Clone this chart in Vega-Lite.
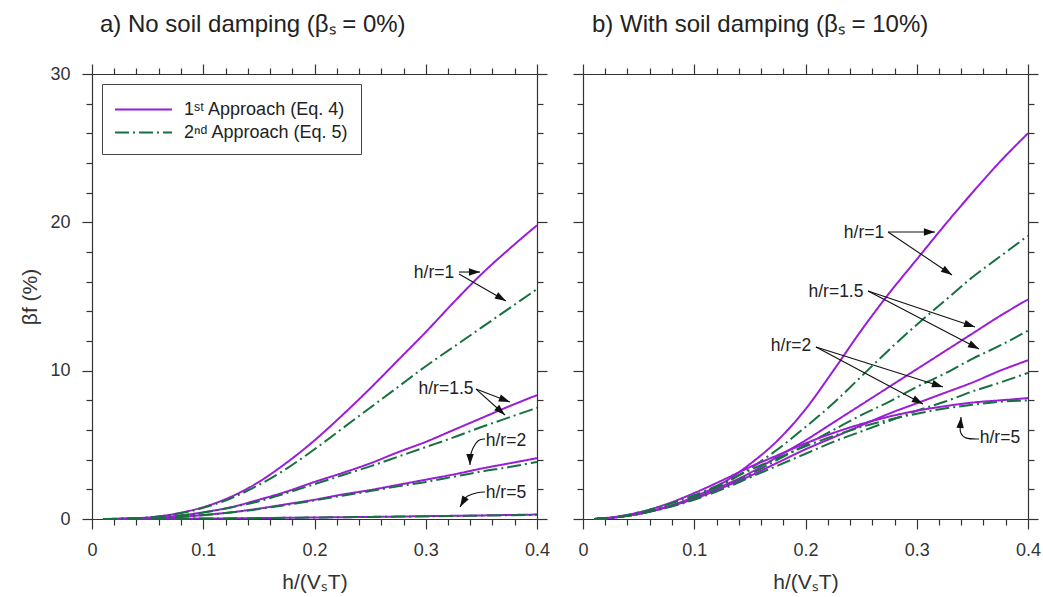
{
  "$schema": "https://vega.github.io/schema/vega-lite/v6.json",
  "padding": {"left": 19, "top": 13, "right": 5, "bottom": 4},
  "background": "white",
  "config": {
    "font": "Liberation Sans",
    "view": {"stroke": null},
    "axis": {"domainColor": "#333", "tickColor": "#333", "labelColor": "#333", "titleColor": "#333", "grid": false, "labelFontSize": 18, "titleFontSize": 21, "titleFontWeight": "normal", "labelFont": "Liberation Sans", "titleFont": "Liberation Sans", "labelOverlap": false, "labelFlush": false, "labelBound": false, "domainWidth": 1.2, "tickWidth": 1.2}
  },
  "datasets": {
    "curves": [
      {"panel":"a","hr":"1","approach":"A1","x":0.01,"y":0},{"panel":"a","hr":"1","approach":"A1","x":0.025,"y":0.02},{"panel":"a","hr":"1","approach":"A1","x":0.05,"y":0.1},{"panel":"a","hr":"1","approach":"A1","x":0.075,"y":0.35},{"panel":"a","hr":"1","approach":"A1","x":0.1,"y":0.8},{"panel":"a","hr":"1","approach":"A1","x":0.125,"y":1.5},{"panel":"a","hr":"1","approach":"A1","x":0.15,"y":2.5},{"panel":"a","hr":"1","approach":"A1","x":0.175,"y":3.8},{"panel":"a","hr":"1","approach":"A1","x":0.2,"y":5.3},{"panel":"a","hr":"1","approach":"A1","x":0.225,"y":7.0},{"panel":"a","hr":"1","approach":"A1","x":0.25,"y":8.8},{"panel":"a","hr":"1","approach":"A1","x":0.275,"y":10.7},{"panel":"a","hr":"1","approach":"A1","x":0.3,"y":12.6},{"panel":"a","hr":"1","approach":"A1","x":0.325,"y":14.6},{"panel":"a","hr":"1","approach":"A1","x":0.35,"y":16.5},{"panel":"a","hr":"1","approach":"A1","x":0.375,"y":18.2},{"panel":"a","hr":"1","approach":"A1","x":0.4,"y":19.8},
      {"panel":"a","hr":"1","approach":"A2","x":0.01,"y":0},{"panel":"a","hr":"1","approach":"A2","x":0.025,"y":0.02},{"panel":"a","hr":"1","approach":"A2","x":0.05,"y":0.1},{"panel":"a","hr":"1","approach":"A2","x":0.075,"y":0.33},{"panel":"a","hr":"1","approach":"A2","x":0.1,"y":0.75},{"panel":"a","hr":"1","approach":"A2","x":0.125,"y":1.4},{"panel":"a","hr":"1","approach":"A2","x":0.15,"y":2.3},{"panel":"a","hr":"1","approach":"A2","x":0.175,"y":3.4},{"panel":"a","hr":"1","approach":"A2","x":0.2,"y":4.7},{"panel":"a","hr":"1","approach":"A2","x":0.225,"y":6.1},{"panel":"a","hr":"1","approach":"A2","x":0.25,"y":7.5},{"panel":"a","hr":"1","approach":"A2","x":0.275,"y":8.9},{"panel":"a","hr":"1","approach":"A2","x":0.3,"y":10.3},{"panel":"a","hr":"1","approach":"A2","x":0.325,"y":11.6},{"panel":"a","hr":"1","approach":"A2","x":0.35,"y":12.9},{"panel":"a","hr":"1","approach":"A2","x":0.375,"y":14.2},{"panel":"a","hr":"1","approach":"A2","x":0.4,"y":15.5},
      {"panel":"a","hr":"1.5","approach":"A1","x":0.01,"y":0},{"panel":"a","hr":"1.5","approach":"A1","x":0.025,"y":0.01},{"panel":"a","hr":"1.5","approach":"A1","x":0.05,"y":0.06},{"panel":"a","hr":"1.5","approach":"A1","x":0.075,"y":0.2},{"panel":"a","hr":"1.5","approach":"A1","x":0.1,"y":0.45},{"panel":"a","hr":"1.5","approach":"A1","x":0.125,"y":0.8},{"panel":"a","hr":"1.5","approach":"A1","x":0.15,"y":1.3},{"panel":"a","hr":"1.5","approach":"A1","x":0.175,"y":1.85},{"panel":"a","hr":"1.5","approach":"A1","x":0.2,"y":2.5},{"panel":"a","hr":"1.5","approach":"A1","x":0.225,"y":3.1},{"panel":"a","hr":"1.5","approach":"A1","x":0.25,"y":3.75},{"panel":"a","hr":"1.5","approach":"A1","x":0.275,"y":4.5},{"panel":"a","hr":"1.5","approach":"A1","x":0.3,"y":5.2},{"panel":"a","hr":"1.5","approach":"A1","x":0.325,"y":6.0},{"panel":"a","hr":"1.5","approach":"A1","x":0.35,"y":6.8},{"panel":"a","hr":"1.5","approach":"A1","x":0.375,"y":7.6},{"panel":"a","hr":"1.5","approach":"A1","x":0.4,"y":8.35},
      {"panel":"a","hr":"1.5","approach":"A2","x":0.01,"y":0},{"panel":"a","hr":"1.5","approach":"A2","x":0.025,"y":0.01},{"panel":"a","hr":"1.5","approach":"A2","x":0.05,"y":0.06},{"panel":"a","hr":"1.5","approach":"A2","x":0.075,"y":0.2},{"panel":"a","hr":"1.5","approach":"A2","x":0.1,"y":0.43},{"panel":"a","hr":"1.5","approach":"A2","x":0.125,"y":0.78},{"panel":"a","hr":"1.5","approach":"A2","x":0.15,"y":1.2},{"panel":"a","hr":"1.5","approach":"A2","x":0.175,"y":1.75},{"panel":"a","hr":"1.5","approach":"A2","x":0.2,"y":2.35},{"panel":"a","hr":"1.5","approach":"A2","x":0.225,"y":2.95},{"panel":"a","hr":"1.5","approach":"A2","x":0.25,"y":3.55},{"panel":"a","hr":"1.5","approach":"A2","x":0.275,"y":4.2},{"panel":"a","hr":"1.5","approach":"A2","x":0.3,"y":4.85},{"panel":"a","hr":"1.5","approach":"A2","x":0.325,"y":5.5},{"panel":"a","hr":"1.5","approach":"A2","x":0.35,"y":6.2},{"panel":"a","hr":"1.5","approach":"A2","x":0.375,"y":6.85},{"panel":"a","hr":"1.5","approach":"A2","x":0.4,"y":7.5},
      {"panel":"a","hr":"2","approach":"A1","x":0.01,"y":0},{"panel":"a","hr":"2","approach":"A1","x":0.025,"y":0.01},{"panel":"a","hr":"2","approach":"A1","x":0.05,"y":0.04},{"panel":"a","hr":"2","approach":"A1","x":0.075,"y":0.12},{"panel":"a","hr":"2","approach":"A1","x":0.1,"y":0.27},{"panel":"a","hr":"2","approach":"A1","x":0.125,"y":0.45},{"panel":"a","hr":"2","approach":"A1","x":0.15,"y":0.7},{"panel":"a","hr":"2","approach":"A1","x":0.175,"y":1.0},{"panel":"a","hr":"2","approach":"A1","x":0.2,"y":1.3},{"panel":"a","hr":"2","approach":"A1","x":0.225,"y":1.65},{"panel":"a","hr":"2","approach":"A1","x":0.25,"y":1.95},{"panel":"a","hr":"2","approach":"A1","x":0.275,"y":2.3},{"panel":"a","hr":"2","approach":"A1","x":0.3,"y":2.65},{"panel":"a","hr":"2","approach":"A1","x":0.325,"y":3.0},{"panel":"a","hr":"2","approach":"A1","x":0.35,"y":3.4},{"panel":"a","hr":"2","approach":"A1","x":0.375,"y":3.75},{"panel":"a","hr":"2","approach":"A1","x":0.4,"y":4.1},
      {"panel":"a","hr":"2","approach":"A2","x":0.01,"y":0},{"panel":"a","hr":"2","approach":"A2","x":0.025,"y":0.01},{"panel":"a","hr":"2","approach":"A2","x":0.05,"y":0.04},{"panel":"a","hr":"2","approach":"A2","x":0.075,"y":0.12},{"panel":"a","hr":"2","approach":"A2","x":0.1,"y":0.26},{"panel":"a","hr":"2","approach":"A2","x":0.125,"y":0.44},{"panel":"a","hr":"2","approach":"A2","x":0.15,"y":0.67},{"panel":"a","hr":"2","approach":"A2","x":0.175,"y":0.95},{"panel":"a","hr":"2","approach":"A2","x":0.2,"y":1.25},{"panel":"a","hr":"2","approach":"A2","x":0.225,"y":1.57},{"panel":"a","hr":"2","approach":"A2","x":0.25,"y":1.88},{"panel":"a","hr":"2","approach":"A2","x":0.275,"y":2.2},{"panel":"a","hr":"2","approach":"A2","x":0.3,"y":2.5},{"panel":"a","hr":"2","approach":"A2","x":0.325,"y":2.85},{"panel":"a","hr":"2","approach":"A2","x":0.35,"y":3.2},{"panel":"a","hr":"2","approach":"A2","x":0.375,"y":3.5},{"panel":"a","hr":"2","approach":"A2","x":0.4,"y":3.85},
      {"panel":"a","hr":"5","approach":"A1","x":0.01,"y":0},{"panel":"a","hr":"5","approach":"A1","x":0.05,"y":0.01},{"panel":"a","hr":"5","approach":"A1","x":0.1,"y":0.03},{"panel":"a","hr":"5","approach":"A1","x":0.15,"y":0.06},{"panel":"a","hr":"5","approach":"A1","x":0.2,"y":0.1},{"panel":"a","hr":"5","approach":"A1","x":0.25,"y":0.14},{"panel":"a","hr":"5","approach":"A1","x":0.3,"y":0.19},{"panel":"a","hr":"5","approach":"A1","x":0.35,"y":0.24},{"panel":"a","hr":"5","approach":"A1","x":0.4,"y":0.3},
      {"panel":"a","hr":"5","approach":"A2","x":0.01,"y":0},{"panel":"a","hr":"5","approach":"A2","x":0.05,"y":0.01},{"panel":"a","hr":"5","approach":"A2","x":0.1,"y":0.03},{"panel":"a","hr":"5","approach":"A2","x":0.15,"y":0.06},{"panel":"a","hr":"5","approach":"A2","x":0.2,"y":0.1},{"panel":"a","hr":"5","approach":"A2","x":0.25,"y":0.14},{"panel":"a","hr":"5","approach":"A2","x":0.3,"y":0.18},{"panel":"a","hr":"5","approach":"A2","x":0.35,"y":0.23},{"panel":"a","hr":"5","approach":"A2","x":0.4,"y":0.28},
      {"panel":"b","hr":"1","approach":"A1","x":0.01,"y":0},{"panel":"b","hr":"1","approach":"A1","x":0.025,"y":0.08},{"panel":"b","hr":"1","approach":"A1","x":0.05,"y":0.35},{"panel":"b","hr":"1","approach":"A1","x":0.075,"y":0.8},{"panel":"b","hr":"1","approach":"A1","x":0.1,"y":1.5},{"panel":"b","hr":"1","approach":"A1","x":0.125,"y":2.4},{"panel":"b","hr":"1","approach":"A1","x":0.15,"y":3.7},{"panel":"b","hr":"1","approach":"A1","x":0.175,"y":5.3},{"panel":"b","hr":"1","approach":"A1","x":0.2,"y":7.4},{"panel":"b","hr":"1","approach":"A1","x":0.225,"y":10.0},{"panel":"b","hr":"1","approach":"A1","x":0.25,"y":12.7},{"panel":"b","hr":"1","approach":"A1","x":0.275,"y":15.2},{"panel":"b","hr":"1","approach":"A1","x":0.3,"y":17.5},{"panel":"b","hr":"1","approach":"A1","x":0.325,"y":19.8},{"panel":"b","hr":"1","approach":"A1","x":0.35,"y":22.0},{"panel":"b","hr":"1","approach":"A1","x":0.375,"y":24.1},{"panel":"b","hr":"1","approach":"A1","x":0.4,"y":26.0},
      {"panel":"b","hr":"1","approach":"A2","x":0.01,"y":0},{"panel":"b","hr":"1","approach":"A2","x":0.025,"y":0.08},{"panel":"b","hr":"1","approach":"A2","x":0.05,"y":0.35},{"panel":"b","hr":"1","approach":"A2","x":0.075,"y":0.8},{"panel":"b","hr":"1","approach":"A2","x":0.1,"y":1.45},{"panel":"b","hr":"1","approach":"A2","x":0.125,"y":2.3},{"panel":"b","hr":"1","approach":"A2","x":0.15,"y":3.4},{"panel":"b","hr":"1","approach":"A2","x":0.175,"y":4.7},{"panel":"b","hr":"1","approach":"A2","x":0.2,"y":6.2},{"panel":"b","hr":"1","approach":"A2","x":0.225,"y":7.8},{"panel":"b","hr":"1","approach":"A2","x":0.25,"y":9.6},{"panel":"b","hr":"1","approach":"A2","x":0.275,"y":11.4},{"panel":"b","hr":"1","approach":"A2","x":0.3,"y":13.1},{"panel":"b","hr":"1","approach":"A2","x":0.325,"y":14.7},{"panel":"b","hr":"1","approach":"A2","x":0.35,"y":16.3},{"panel":"b","hr":"1","approach":"A2","x":0.375,"y":17.7},{"panel":"b","hr":"1","approach":"A2","x":0.4,"y":19.1},
      {"panel":"b","hr":"1.5","approach":"A1","x":0.01,"y":0},{"panel":"b","hr":"1.5","approach":"A1","x":0.025,"y":0.08},{"panel":"b","hr":"1.5","approach":"A1","x":0.05,"y":0.35},{"panel":"b","hr":"1.5","approach":"A1","x":0.075,"y":0.8},{"panel":"b","hr":"1.5","approach":"A1","x":0.1,"y":1.4},{"panel":"b","hr":"1.5","approach":"A1","x":0.125,"y":2.2},{"panel":"b","hr":"1.5","approach":"A1","x":0.15,"y":3.1},{"panel":"b","hr":"1.5","approach":"A1","x":0.175,"y":4.2},{"panel":"b","hr":"1.5","approach":"A1","x":0.2,"y":5.3},{"panel":"b","hr":"1.5","approach":"A1","x":0.225,"y":6.5},{"panel":"b","hr":"1.5","approach":"A1","x":0.25,"y":7.7},{"panel":"b","hr":"1.5","approach":"A1","x":0.275,"y":8.9},{"panel":"b","hr":"1.5","approach":"A1","x":0.3,"y":10.1},{"panel":"b","hr":"1.5","approach":"A1","x":0.325,"y":11.3},{"panel":"b","hr":"1.5","approach":"A1","x":0.35,"y":12.5},{"panel":"b","hr":"1.5","approach":"A1","x":0.375,"y":13.7},{"panel":"b","hr":"1.5","approach":"A1","x":0.4,"y":14.8},
      {"panel":"b","hr":"1.5","approach":"A2","x":0.01,"y":0},{"panel":"b","hr":"1.5","approach":"A2","x":0.025,"y":0.08},{"panel":"b","hr":"1.5","approach":"A2","x":0.05,"y":0.35},{"panel":"b","hr":"1.5","approach":"A2","x":0.075,"y":0.8},{"panel":"b","hr":"1.5","approach":"A2","x":0.1,"y":1.4},{"panel":"b","hr":"1.5","approach":"A2","x":0.125,"y":2.15},{"panel":"b","hr":"1.5","approach":"A2","x":0.15,"y":3.0},{"panel":"b","hr":"1.5","approach":"A2","x":0.175,"y":4.0},{"panel":"b","hr":"1.5","approach":"A2","x":0.2,"y":5.0},{"panel":"b","hr":"1.5","approach":"A2","x":0.225,"y":6.0},{"panel":"b","hr":"1.5","approach":"A2","x":0.25,"y":7.0},{"panel":"b","hr":"1.5","approach":"A2","x":0.275,"y":7.9},{"panel":"b","hr":"1.5","approach":"A2","x":0.3,"y":8.9},{"panel":"b","hr":"1.5","approach":"A2","x":0.325,"y":9.8},{"panel":"b","hr":"1.5","approach":"A2","x":0.35,"y":10.8},{"panel":"b","hr":"1.5","approach":"A2","x":0.375,"y":11.7},{"panel":"b","hr":"1.5","approach":"A2","x":0.4,"y":12.7},
      {"panel":"b","hr":"2","approach":"A1","x":0.01,"y":0},{"panel":"b","hr":"2","approach":"A1","x":0.025,"y":0.08},{"panel":"b","hr":"2","approach":"A1","x":0.05,"y":0.35},{"panel":"b","hr":"2","approach":"A1","x":0.075,"y":0.8},{"panel":"b","hr":"2","approach":"A1","x":0.1,"y":1.35},{"panel":"b","hr":"2","approach":"A1","x":0.125,"y":2.1},{"panel":"b","hr":"2","approach":"A1","x":0.15,"y":2.9},{"panel":"b","hr":"2","approach":"A1","x":0.175,"y":3.8},{"panel":"b","hr":"2","approach":"A1","x":0.2,"y":4.7},{"panel":"b","hr":"2","approach":"A1","x":0.225,"y":5.5},{"panel":"b","hr":"2","approach":"A1","x":0.25,"y":6.3},{"panel":"b","hr":"2","approach":"A1","x":0.275,"y":7.1},{"panel":"b","hr":"2","approach":"A1","x":0.3,"y":7.8},{"panel":"b","hr":"2","approach":"A1","x":0.325,"y":8.5},{"panel":"b","hr":"2","approach":"A1","x":0.35,"y":9.2},{"panel":"b","hr":"2","approach":"A1","x":0.375,"y":10.0},{"panel":"b","hr":"2","approach":"A1","x":0.4,"y":10.7},
      {"panel":"b","hr":"2","approach":"A2","x":0.01,"y":0},{"panel":"b","hr":"2","approach":"A2","x":0.025,"y":0.08},{"panel":"b","hr":"2","approach":"A2","x":0.05,"y":0.33},{"panel":"b","hr":"2","approach":"A2","x":0.075,"y":0.75},{"panel":"b","hr":"2","approach":"A2","x":0.1,"y":1.3},{"panel":"b","hr":"2","approach":"A2","x":0.125,"y":2.0},{"panel":"b","hr":"2","approach":"A2","x":0.15,"y":2.8},{"panel":"b","hr":"2","approach":"A2","x":0.175,"y":3.6},{"panel":"b","hr":"2","approach":"A2","x":0.2,"y":4.4},{"panel":"b","hr":"2","approach":"A2","x":0.225,"y":5.2},{"panel":"b","hr":"2","approach":"A2","x":0.25,"y":5.9},{"panel":"b","hr":"2","approach":"A2","x":0.275,"y":6.6},{"panel":"b","hr":"2","approach":"A2","x":0.3,"y":7.3},{"panel":"b","hr":"2","approach":"A2","x":0.325,"y":7.9},{"panel":"b","hr":"2","approach":"A2","x":0.35,"y":8.6},{"panel":"b","hr":"2","approach":"A2","x":0.375,"y":9.2},{"panel":"b","hr":"2","approach":"A2","x":0.4,"y":9.85},
      {"panel":"b","hr":"5","approach":"A1","x":0.01,"y":0},{"panel":"b","hr":"5","approach":"A1","x":0.025,"y":0.1},{"panel":"b","hr":"5","approach":"A1","x":0.05,"y":0.45},{"panel":"b","hr":"5","approach":"A1","x":0.075,"y":1.0},{"panel":"b","hr":"5","approach":"A1","x":0.1,"y":1.75},{"panel":"b","hr":"5","approach":"A1","x":0.125,"y":2.6},{"panel":"b","hr":"5","approach":"A1","x":0.15,"y":3.5},{"panel":"b","hr":"5","approach":"A1","x":0.175,"y":4.3},{"panel":"b","hr":"5","approach":"A1","x":0.2,"y":5.1},{"panel":"b","hr":"5","approach":"A1","x":0.225,"y":5.8},{"panel":"b","hr":"5","approach":"A1","x":0.25,"y":6.4},{"panel":"b","hr":"5","approach":"A1","x":0.275,"y":6.9},{"panel":"b","hr":"5","approach":"A1","x":0.3,"y":7.3},{"panel":"b","hr":"5","approach":"A1","x":0.325,"y":7.6},{"panel":"b","hr":"5","approach":"A1","x":0.35,"y":7.85},{"panel":"b","hr":"5","approach":"A1","x":0.375,"y":8.0},{"panel":"b","hr":"5","approach":"A1","x":0.4,"y":8.15},
      {"panel":"b","hr":"5","approach":"A2","x":0.01,"y":0},{"panel":"b","hr":"5","approach":"A2","x":0.025,"y":0.1},{"panel":"b","hr":"5","approach":"A2","x":0.05,"y":0.42},{"panel":"b","hr":"5","approach":"A2","x":0.075,"y":0.95},{"panel":"b","hr":"5","approach":"A2","x":0.1,"y":1.6},{"panel":"b","hr":"5","approach":"A2","x":0.125,"y":2.4},{"panel":"b","hr":"5","approach":"A2","x":0.15,"y":3.3},{"panel":"b","hr":"5","approach":"A2","x":0.175,"y":4.1},{"panel":"b","hr":"5","approach":"A2","x":0.2,"y":4.9},{"panel":"b","hr":"5","approach":"A2","x":0.225,"y":5.6},{"panel":"b","hr":"5","approach":"A2","x":0.25,"y":6.2},{"panel":"b","hr":"5","approach":"A2","x":0.275,"y":6.7},{"panel":"b","hr":"5","approach":"A2","x":0.3,"y":7.1},{"panel":"b","hr":"5","approach":"A2","x":0.325,"y":7.45},{"panel":"b","hr":"5","approach":"A2","x":0.35,"y":7.7},{"panel":"b","hr":"5","approach":"A2","x":0.375,"y":7.9},{"panel":"b","hr":"5","approach":"A2","x":0.4,"y":8.0}
    ],
    "labels": [
      {"panel":"a","label":"h/r=1","x":0.3074,"y":16.58},
      {"panel":"a","label":"h/r=1.5","x":0.3182,"y":8.76},
      {"panel":"a","label":"h/r=2","x":0.3721,"y":5.26},
      {"panel":"a","label":"h/r=5","x":0.3721,"y":1.75},
      {"panel":"b","label":"h/r=1","x":0.2526,"y":19.28},
      {"panel":"b","label":"h/r=1.5","x":0.2274,"y":15.3},
      {"panel":"b","label":"h/r=2","x":0.187,"y":11.66},
      {"panel":"b","label":"h/r=5","x":0.3748,"y":5.46}
    ],
    "arrows": [
      {"panel":"a","id":"a1a","ord":0,"x":0.3299,"y":16.65},{"panel":"a","id":"a1a","ord":1,"x":0.3488,"y":16.65},
      {"panel":"a","id":"a1b","ord":0,"x":0.3299,"y":16.52},{"panel":"a","id":"a1b","ord":1,"x":0.3721,"y":14.7},
      {"panel":"a","id":"a15a","ord":0,"x":0.3452,"y":8.76},{"panel":"a","id":"a15a","ord":1,"x":0.3757,"y":7.89},
      {"panel":"a","id":"a15b","ord":0,"x":0.3452,"y":8.76},{"panel":"a","id":"a15b","ord":1,"x":0.3712,"y":7.01},
      {"panel":"a","id":"a2","ord":0,"x":0.3533,"y":5.39},{"panel":"a","id":"a2","ord":1,"x":0.347,"y":5.39},{"panel":"a","id":"a2","ord":2,"x":0.3416,"y":4.72},{"panel":"a","id":"a2","ord":3,"x":0.3398,"y":4.18},{"panel":"a","id":"a2","ord":4,"x":0.3398,"y":3.64},
      {"panel":"a","id":"a5","ord":0,"x":0.3533,"y":1.82},{"panel":"a","id":"a5","ord":1,"x":0.347,"y":1.82},{"panel":"a","id":"a5","ord":2,"x":0.3362,"y":1.55},{"panel":"a","id":"a5","ord":3,"x":0.3344,"y":1.28},{"panel":"a","id":"a5","ord":4,"x":0.3308,"y":0.81},
      {"panel":"b","id":"b1a","ord":0,"x":0.2742,"y":19.35},{"panel":"b","id":"b1a","ord":1,"x":0.3164,"y":19.35},
      {"panel":"b","id":"b1b","ord":0,"x":0.2742,"y":19.35},{"panel":"b","id":"b1b","ord":1,"x":0.3317,"y":16.45},
      {"panel":"b","id":"b15a","ord":0,"x":0.2562,"y":15.37},{"panel":"b","id":"b15a","ord":1,"x":0.3524,"y":12.94},
      {"panel":"b","id":"b15b","ord":0,"x":0.2562,"y":15.37},{"panel":"b","id":"b15b","ord":1,"x":0.356,"y":11.46},
      {"panel":"b","id":"b2a","ord":0,"x":0.2094,"y":11.6},{"panel":"b","id":"b2a","ord":1,"x":0.3236,"y":8.9},
      {"panel":"b","id":"b2b","ord":0,"x":0.2094,"y":11.6},{"panel":"b","id":"b2b","ord":1,"x":0.3056,"y":7.75},
      {"panel":"b","id":"b5","ord":0,"x":0.356,"y":5.39},{"panel":"b","id":"b5","ord":1,"x":0.3425,"y":5.39},{"panel":"b","id":"b5","ord":2,"x":0.3389,"y":5.87},{"panel":"b","id":"b5","ord":3,"x":0.3389,"y":6.07},{"panel":"b","id":"b5","ord":4,"x":0.3398,"y":6.88}
    ],
    "heads": [
      {"panel":"a","x":0.3488,"y":16.65,"tx":0.3299,"ty":16.65},
      {"panel":"a","x":0.3721,"y":14.7,"tx":0.3299,"ty":16.52},
      {"panel":"a","x":0.3757,"y":7.89,"tx":0.3452,"ty":8.76},
      {"panel":"a","x":0.3712,"y":7.01,"tx":0.3452,"ty":8.76},
      {"panel":"a","x":0.3398,"y":3.64,"tx":0.3398,"ty":4.18},
      {"panel":"a","x":0.3308,"y":0.81,"tx":0.3344,"ty":1.28},
      {"panel":"b","x":0.3164,"y":19.35,"tx":0.2742,"ty":19.35},
      {"panel":"b","x":0.3317,"y":16.45,"tx":0.2742,"ty":19.35},
      {"panel":"b","x":0.3524,"y":12.94,"tx":0.2562,"ty":15.37},
      {"panel":"b","x":0.356,"y":11.46,"tx":0.2562,"ty":15.37},
      {"panel":"b","x":0.3236,"y":8.9,"tx":0.2094,"ty":11.6},
      {"panel":"b","x":0.3056,"y":7.75,"tx":0.2094,"ty":11.6},
      {"panel":"b","x":0.3398,"y":6.88,"tx":0.3389,"ty":6.07}
    ]
  },
  "spacing": 46,
  "bounds": "flush",
  "resolve": {"legend": {"color": "independent", "strokeDash": "independent"}},
  "hconcat": [
    {
      "width": 445, "height": 445,
      "title": {"text": "a) No soil damping (βₛ = 0%)", "anchor": "start", "frame": "group", "dx": 8, "fontSize": 24, "fontWeight": "normal", "color": "#222", "offset": 26, "font": "Liberation Sans"},
      "resolve": {"axis": {"x": "independent", "y": "independent"}},
      "layer": [
        {
          "data": {"name": "curves"},
          "transform": [{"filter": "datum.panel == 'a'"}],
          "mark": {"type": "line", "strokeWidth": 2, "interpolate": "monotone"},
          "encoding": {
            "x": {"field": "x", "type": "quantitative", "scale": {"domain": [0, 0.4], "nice": false, "zero": false},
              "axis": {"orient": "bottom", "title": "h/(VₛT)", "values": [0,0.02,0.04,0.06,0.08,0.1,0.12,0.14,0.16,0.18,0.2,0.22,0.24,0.26,0.28,0.3,0.32,0.34,0.36,0.38,0.4],
                "labelExpr": "abs(datum.value*10 - round(datum.value*10)) < 0.001 ? format(datum.value, '.1~f') : ''",
                "tickSize": {"condition": {"test": "abs(datum.value*10 - round(datum.value*10)) < 0.001", "value": 10}, "value": 6},
                "labelPadding": 12, "titlePadding": 12}},
            "y": {"field": "y", "type": "quantitative", "scale": {"domain": [0, 30], "nice": false},
              "axis": {"orient": "left", "title": "βf (%)", "values": [0,2,4,6,8,10,12,14,16,18,20,22,24,26,28,30],
                "labelExpr": "datum.value % 10 === 0 ? datum.label : ''",
                "tickSize": {"condition": {"test": "datum.value % 10 === 0", "value": 10}, "value": 6},
                "labelPadding": 12, "titlePadding": 9}},
            "color": {"field": "approach", "type": "nominal", "scale": {"domain": ["A1", "A2"], "range": ["#9a1ed8", "#16703f"]},
              "legend": {"orient": "none", "legendX": 10, "legendY": 10, "title": null, "strokeColor": "#444", "fillColor": "#fff", "padding": 12, "symbolType": "M-1,0L3.56,0", "symbolSize": 625, "symbolStrokeWidth": 2, "labelFontSize": 18, "labelFont": "Liberation Sans", "labelOffset": 43, "rowPadding": 0, "labelColor": "#222", "labelLimit": 400,
                "labelExpr": "datum.value == 'A1' ? '1ˢᵗ Approach (Eq. 4)' : '2ⁿᵈ Approach (Eq. 5)'"}},
            "strokeDash": {"field": "approach", "type": "nominal", "scale": {"domain": ["A1", "A2"], "range": [[1, 0], [14, 4, 2, 4]]},
              "legend": {"orient": "none", "legendX": 10, "legendY": 10, "title": null, "strokeColor": "#444", "fillColor": "#fff", "padding": 12, "symbolType": "M-1,0L3.56,0", "symbolSize": 625, "symbolStrokeWidth": 2, "labelFontSize": 18, "labelFont": "Liberation Sans", "labelOffset": 43, "rowPadding": 0, "labelColor": "#222", "labelLimit": 400,
                "labelExpr": "datum.value == 'A1' ? '1ˢᵗ Approach (Eq. 4)' : '2ⁿᵈ Approach (Eq. 5)'"}},
            "detail": {"field": "hr"}
          }
        },
        {
          "data": {"name": "labels"},
          "transform": [{"filter": "datum.panel == 'a'"}],
          "mark": {"type": "text", "fontSize": 17.5, "font": "Liberation Sans", "color": "#222"},
          "encoding": {
            "x": {"field": "x", "type": "quantitative", "axis": {"orient": "top", "title": null, "labels": false, "values": [0,0.02,0.04,0.06,0.08,0.1,0.12,0.14,0.16,0.18,0.2,0.22,0.24,0.26,0.28,0.3,0.32,0.34,0.36,0.38,0.4],
              "tickSize": {"condition": {"test": "abs(datum.value*10 - round(datum.value*10)) < 0.001", "value": 10}, "value": 6}}},
            "y": {"field": "y", "type": "quantitative", "axis": {"orient": "right", "title": null, "labels": false, "values": [0,2,4,6,8,10,12,14,16,18,20,22,24,26,28,30],
              "tickSize": {"condition": {"test": "datum.value % 10 === 0", "value": 10}, "value": 6}}},
            "text": {"field": "label"}
          }
        },
        {
          "data": {"name": "arrows"},
          "transform": [{"filter": "datum.panel == 'a'"}],
          "mark": {"type": "line", "strokeWidth": 1.1, "color": "#111", "interpolate": "basis"},
          "encoding": {
            "x": {"field": "x", "type": "quantitative", "axis": null},
            "y": {"field": "y", "type": "quantitative", "axis": null},
            "detail": {"field": "id"},
            "order": {"field": "ord"}
          }
        },
        {
          "data": {"name": "heads"},
          "transform": [{"filter": "datum.panel == 'a'"}, {"calculate": "atan2((datum.x - datum.tx)*1112.5, (datum.y - datum.ty)*14.833)*180/PI", "as": "ang"}],
          "mark": {"type": "point", "filled": true, "shape": "M0,0L-0.5,1.5L0.5,1.5Z", "size": 220, "color": "#111", "opacity": 1},
          "encoding": {
            "x": {"field": "x", "type": "quantitative", "axis": null},
            "y": {"field": "y", "type": "quantitative", "axis": null},
            "angle": {"field": "ang", "type": "quantitative", "scale": null}
          }
        }
      ]
    },
    {
      "width": 445, "height": 445,
      "title": {"text": "b) With soil damping (βₛ = 10%)", "anchor": "start", "frame": "group", "dx": 9, "fontSize": 24, "fontWeight": "normal", "color": "#222", "offset": 26, "font": "Liberation Sans"},
      "resolve": {"axis": {"x": "independent", "y": "independent"}},
      "layer": [
        {
          "data": {"name": "curves"},
          "transform": [{"filter": "datum.panel == 'b'"}],
          "mark": {"type": "line", "strokeWidth": 2, "interpolate": "monotone"},
          "encoding": {
            "x": {"field": "x", "type": "quantitative", "scale": {"domain": [0, 0.4], "nice": false, "zero": false},
              "axis": {"orient": "bottom", "title": "h/(VₛT)", "values": [0,0.02,0.04,0.06,0.08,0.1,0.12,0.14,0.16,0.18,0.2,0.22,0.24,0.26,0.28,0.3,0.32,0.34,0.36,0.38,0.4],
                "labelExpr": "abs(datum.value*10 - round(datum.value*10)) < 0.001 ? format(datum.value, '.1~f') : ''",
                "tickSize": {"condition": {"test": "abs(datum.value*10 - round(datum.value*10)) < 0.001", "value": 10}, "value": 6},
                "labelPadding": 12, "titlePadding": 12}},
            "y": {"field": "y", "type": "quantitative", "scale": {"domain": [0, 30], "nice": false},
              "axis": {"orient": "left", "title": null, "labels": false, "values": [0,2,4,6,8,10,12,14,16,18,20,22,24,26,28,30],
                "tickSize": {"condition": {"test": "datum.value % 10 === 0", "value": 10}, "value": 6}}},
            "color": {"field": "approach", "type": "nominal", "scale": {"domain": ["A1", "A2"], "range": ["#9a1ed8", "#16703f"]}, "legend": null},
            "strokeDash": {"field": "approach", "type": "nominal", "scale": {"domain": ["A1", "A2"], "range": [[1, 0], [14, 4, 2, 4]]}, "legend": null},
            "detail": {"field": "hr"}
          }
        },
        {
          "data": {"name": "labels"},
          "transform": [{"filter": "datum.panel == 'b'"}],
          "mark": {"type": "text", "fontSize": 17.5, "font": "Liberation Sans", "color": "#222"},
          "encoding": {
            "x": {"field": "x", "type": "quantitative", "axis": {"orient": "top", "title": null, "labels": false, "values": [0,0.02,0.04,0.06,0.08,0.1,0.12,0.14,0.16,0.18,0.2,0.22,0.24,0.26,0.28,0.3,0.32,0.34,0.36,0.38,0.4],
              "tickSize": {"condition": {"test": "abs(datum.value*10 - round(datum.value*10)) < 0.001", "value": 10}, "value": 6}}},
            "y": {"field": "y", "type": "quantitative", "axis": {"orient": "right", "title": null, "labels": false, "values": [0,2,4,6,8,10,12,14,16,18,20,22,24,26,28,30],
              "tickSize": {"condition": {"test": "datum.value % 10 === 0", "value": 10}, "value": 6}}},
            "text": {"field": "label"}
          }
        },
        {
          "data": {"name": "arrows"},
          "transform": [{"filter": "datum.panel == 'b'"}],
          "mark": {"type": "line", "strokeWidth": 1.1, "color": "#111", "interpolate": "basis"},
          "encoding": {
            "x": {"field": "x", "type": "quantitative", "axis": null},
            "y": {"field": "y", "type": "quantitative", "axis": null},
            "detail": {"field": "id"},
            "order": {"field": "ord"}
          }
        },
        {
          "data": {"name": "heads"},
          "transform": [{"filter": "datum.panel == 'b'"}, {"calculate": "atan2((datum.x - datum.tx)*1112.5, (datum.y - datum.ty)*14.833)*180/PI", "as": "ang"}],
          "mark": {"type": "point", "filled": true, "shape": "M0,0L-0.5,1.5L0.5,1.5Z", "size": 220, "color": "#111", "opacity": 1},
          "encoding": {
            "x": {"field": "x", "type": "quantitative", "axis": null},
            "y": {"field": "y", "type": "quantitative", "axis": null},
            "angle": {"field": "ang", "type": "quantitative", "scale": null}
          }
        }
      ]
    }
  ]
}
